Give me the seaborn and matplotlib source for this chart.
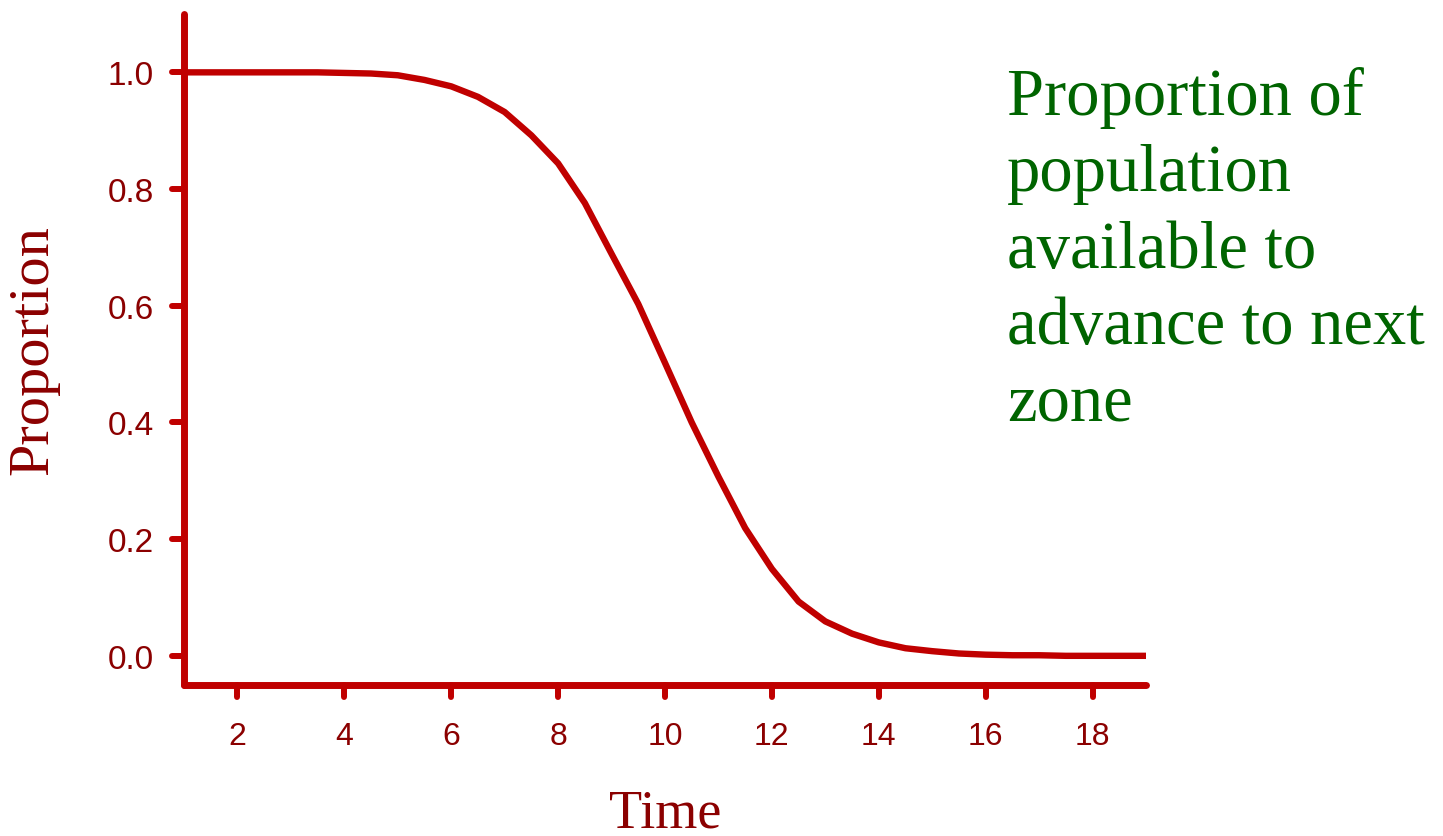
import matplotlib
matplotlib.use("Agg")
import matplotlib.pyplot as plt
from matplotlib.markers import MarkerStyle, TICKLEFT, TICKDOWN
import seaborn as sns

# values (every half time unit)
time = [1, 1.5, 2, 2.5, 3, 3.5, 4, 4.5, 5, 5.5, 6, 6.5, 7, 7.5, 8, 8.5, 9, 9.5,
        10, 10.5, 11, 11.5, 12, 12.5, 13, 13.5, 14, 14.5, 15, 15.5, 16, 16.5,
        17, 17.5, 18, 18.5, 19]
proportion = [1.0, 1.0, 1.0, 1.0, 1.0, 1.0, 0.999, 0.998, 0.995, 0.987, 0.976,
              0.958, 0.932, 0.892, 0.844, 0.776, 0.689, 0.603, 0.502, 0.400,
              0.307, 0.219, 0.149, 0.093, 0.059, 0.038, 0.023, 0.013, 0.008,
              0.004, 0.002, 0.001, 0.001, 0.0, 0.0, 0.0, 0.0]
x_ticks = [2, 4, 6, 8, 10, 12, 14, 16, 18]
y_ticks = [0.0, 0.2, 0.4, 0.6, 0.8, 1.0]
note = "Proportion of\npopulation\navailable to\nadvance to next\nzone"

red = "#C00000"
dark_red = "#8B0000"
green = "#006400"

sns.set_style("white")
plt.rcParams['font.family'] = ['Liberation Sans', 'DejaVu Sans']

fig = plt.figure(figsize=(14.43, 8.37), dpi=100)
ax = fig.add_axes([184 / 1443, 1 - 686 / 837, (1146 - 184) / 1443, (686 - 15) / 837])

sns.lineplot(x=time, y=proportion, ax=ax, color=red, linewidth=4.6)
ax.lines[0].set_solid_capstyle("round")
ax.lines[0].set_solid_joinstyle("round")

ax.set_xlim(1, 19)
ax.set_ylim(-0.05, 1.1)
ax.set_xticks(x_ticks)
ax.set_yticks(y_ticks)
ax.set_yticklabels([f"{v:.1f}" for v in y_ticks])

for side in ["top", "right"]:
    ax.spines[side].set_visible(False)
for side in ["left", "bottom"]:
    ax.spines[side].set_color(red)
    ax.spines[side].set_linewidth(5)
    ax.spines[side].set_capstyle("round")

ax.tick_params(axis="both", direction="out", length=8.6, width=4.3, color=red,
               labelcolor=dark_red, labelsize=24, pad=13, bottom=True, left=True)
ax.tick_params(axis="x", labelsize=23, pad=17)
for t in ax.yaxis.get_major_ticks():
    t.tick1line.set_marker(MarkerStyle(TICKLEFT, capstyle="round"))
for t in ax.xaxis.get_major_ticks():
    t.tick1line.set_marker(MarkerStyle(TICKDOWN, capstyle="round"))

ax.set_xlabel("Time", family=["Liberation Serif"], fontsize=39, color=dark_red, labelpad=27)
ax.set_ylabel("Proportion", family=["Liberation Serif"], fontsize=42, color=dark_red, labelpad=35)

fig.text(1007 / 1443, 1 - 421 / 837, note, family=["Liberation Serif"], fontsize=48,
         color=green, va="baseline", ha="left", linespacing=1.33)

fig.savefig("out.png", dpi=100)
